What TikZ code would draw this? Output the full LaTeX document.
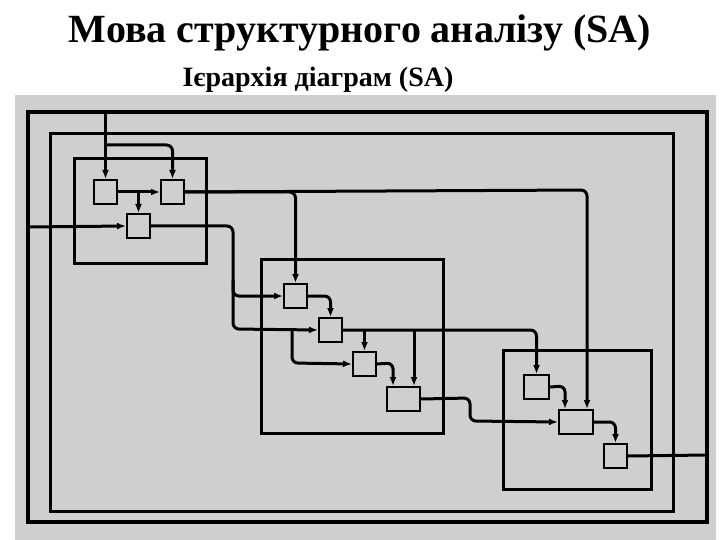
\documentclass[tikz,border=0pt]{standalone}
\usepackage{fontspec}
\setmainfont{Liberation Serif}
\usetikzlibrary{arrows.meta}
\begin{document}
\begin{tikzpicture}[x=1pt,y=-1pt,
  blk/.style={draw,line width=2pt,inner sep=0pt,minimum width=#1,minimum height=24pt,anchor=north west},
  blk/.default=23pt,
  grp/.style={draw,line width=2.6pt,anchor=north west,inner sep=0pt},
  fl/.style={line width=3pt,rounded corners=6pt},
  ar/.style={fl,-{Latex[length=9pt,width=7pt]}}]
\useasboundingbox (0,0) rectangle (720,540);
\fill[white] (0,0) rectangle (720,540);
\fill[gray!38] (15,95) rectangle (716,540);
\node[font=\bfseries\fontsize{40}{42}\selectfont] (title) at (360,33) {Мова структурного аналізу (SA)};
\node[font=\bfseries\fontsize{28}{30}\selectfont] (sub) at (318,80) {Ієрархія діаграм (SA)};
% group frames
\node[grp,minimum width=132pt,minimum height=105pt] (gA) at (73,157) {};
\node[grp,minimum width=182pt,minimum height=174pt] (gB) at (260,258) {};
\node[grp,minimum width=148pt,minimum height=139pt] (gC) at (502,349) {};
% blocks
\node[blk] (b1) at (93,179) {};
\node[blk] (b2) at (160,179) {};
\node[blk] (b3) at (126,213) {};
\node[blk] (b4) at (283,283) {};
\node[blk] (b5) at (318,317) {};
\node[blk] (b6) at (352,351) {};
\node[blk=33pt] (b7) at (386,386) {};
\node[blk=25pt] (b8) at (523,374) {};
\node[blk=34pt] (b9) at (558,409) {};
\node[blk] (b10) at (603,443) {};
\coordinate (oTL) at (28,112);
\coordinate (in) at (28,227);
% outer loops
\draw[line width=3.4pt] (28,112) rectangle (707,522);
\draw[line width=3pt] (50,134) rectangle (673,511);
% connectors group A
\draw[ar] (b1.north |- oTL) -- (b1.north);
\draw[ar] (b1.north |- 0,145) -- (b2.north |- 0,145) -- (b2.north);
\draw[ar] (b1.east) -- (b2.west);
\draw[ar] (b3.north |- b1.east) -- (b3.north);
\draw[ar] (in) -- (b3.west);
% A to B
\draw[ar] (b3.east) -- (233,0 |- b3.east) -- (233,0 |- b4.west) -- (b4.west);
\draw[ar] (233,280) -- (233,329) -- (b5.west);
\draw[ar] (292,329) -- (292,363) -- (b6.west);
\draw[ar] (b2.east) -- (b4.north |- b2.east) -- (b4.north);
\draw[ar] (b2.east) -- (587,190) -- (587,409);
% inside B
\draw[ar] (b4.east) -- (b5.north |- b4.east) -- (b5.north);
\draw[ar] (b5.east) -- (b8.north |- b5.east) -- (b8.north);
\draw[ar] (414,329) -- (414,386);
\draw[ar] (b6.north |- b5.east) -- (b6.north);
\draw[ar] (b6.east) -- (393,363) -- (393,386);
\draw[ar] (b7.east) -- (470,398) -- (470,421) -- (b9.west);
% inside C
\draw[ar] (b8.east) -- (565,386) -- (565,409);
\draw[ar] (b9.east) -- (b10.north |- b9.east) -- (b10.north);
\draw[fl] (b10.east) -- (707,455);
\end{tikzpicture}
\end{document}
